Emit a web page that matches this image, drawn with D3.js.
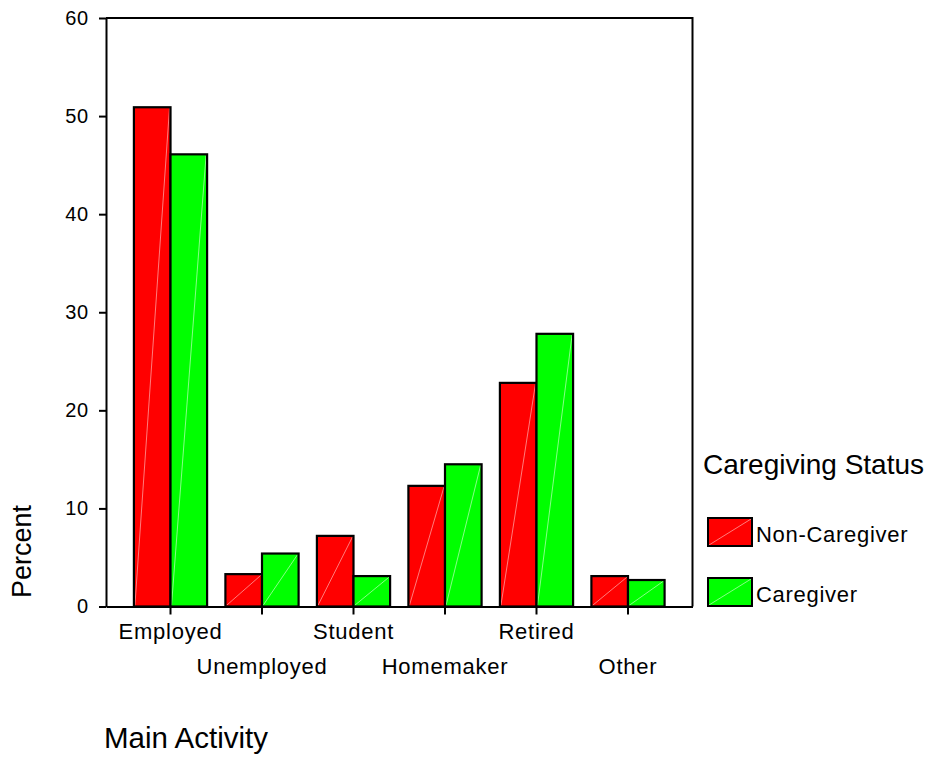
<!DOCTYPE html>
<html>
<head>
<meta charset="utf-8">
<script src="https://cdn.jsdelivr.net/npm/d3@7"></script>
<style>
  html, body { margin: 0; padding: 0; background: #fff; }
  svg { display: block; }
  text { font-family: "Liberation Sans", Arial, sans-serif; fill: #000; }
</style>
</head>
<body>
<svg id="chart" width="931" height="757"></svg>
<script>
const categories = ["Employed", "Unemployed", "Student", "Homemaker", "Retired", "Other"];
const seriesNames = ["Non-Caregiver", "Caregiver"];
const nonCaregiver = [50.9, 3.3, 7.2, 12.3, 22.8, 3.1];
const caregiver = [46.1, 5.4, 3.1, 14.5, 27.8, 2.7];
const yTicks = [0, 10, 20, 30, 40, 50, 60];
const colors = ["#ff0000", "#00ff00"];
const diagColors = ["#ff9a9a", "#a8ffa8"];

(function () {
const svg = d3.select("#chart");
const pL = 106, pR = 692.5, pT = 18, pB = 606.5;
const FF = '"Liberation Sans", Arial, sans-serif';

const x = d3.scaleBand().domain(categories).range([pL, pR]).paddingInner(0.2).paddingOuter(0.305);
const xs = d3.scaleBand().domain(seriesNames).range([0, x.bandwidth()]);
const y = d3.scaleLinear().domain([0, 60]).range([pB, pT]);

// frame (top and right)
svg.append("path")
  .attr("d", `M${pL},${pT}H${pR}V${pB}`)
  .attr("fill", "none").attr("stroke", "#000").attr("stroke-width", 2);

// bars
const rows = categories.map((c, i) => ({ cat: c, vals: [nonCaregiver[i], caregiver[i]] }));
const g = svg.append("g");
rows.forEach(r => {
  r.vals.forEach((v, k) => {
    const bx = x(r.cat) + xs(seriesNames[k]);
    const bw = xs.bandwidth();
    g.append("rect")
      .attr("x", bx).attr("y", y(v))
      .attr("width", bw).attr("height", y(0) - y(v))
      .attr("fill", colors[k]);
    g.append("line")
      .attr("x1", bx + 1).attr("y1", y(0) - 1)
      .attr("x2", bx + bw - 1).attr("y2", y(v) + 1)
      .attr("stroke", diagColors[k]).attr("stroke-width", 0.8);
    g.append("rect")
      .attr("x", bx).attr("y", y(v))
      .attr("width", bw).attr("height", y(0) - y(v))
      .attr("fill", "none").attr("stroke", "#000").attr("stroke-width", 2.2);
  });
});

// y axis
const yAxis = svg.append("g").attr("transform", `translate(${pL},0)`)
  .call(d3.axisLeft(y).tickValues(yTicks).tickSize(7).tickPadding(10).tickSizeOuter(0));
yAxis.select(".domain").attr("stroke-width", 2);
yAxis.selectAll(".tick line").attr("stroke-width", 2);
yAxis.selectAll(".tick text").style("font-size", "20px").style("letter-spacing", "0.8px")
  .style("font-family", FF).attr("fill", "#000");

// x axis
const xAxis = svg.append("g").attr("transform", `translate(0,${pB})`)
  .call(d3.axisBottom(x).tickSize(8).tickSizeOuter(0));
xAxis.select(".domain").attr("stroke-width", 2);
xAxis.selectAll(".tick line").attr("stroke-width", 2);
xAxis.selectAll(".tick text")
  .style("font-size", "22px").style("letter-spacing", "0.75px")
  .style("font-family", FF).attr("fill", "#000")
  .attr("dy", 0)
  .attr("y", (d, i) => i % 2 === 0 ? 639 - pB : 674 - pB);

// axis titles
svg.append("text").attr("x", 104).attr("y", 748)
  .style("font-size", "29.5px").text("Main Activity");
svg.append("text").attr("transform", "translate(31,598) rotate(-90)")
  .style("font-size", "27px").text("Percent");

// legend
svg.append("text").attr("x", 703).attr("y", 474)
  .style("font-size", "28px").text("Caregiving Status");
const legY = [518, 578];
seriesNames.forEach((s, k) => {
  svg.append("rect").attr("x", 708).attr("y", legY[k]).attr("width", 44).attr("height", 28)
    .attr("fill", colors[k]);
  svg.append("line").attr("x1", 709).attr("y1", legY[k] + 27).attr("x2", 751).attr("y2", legY[k] + 1)
    .attr("stroke", diagColors[k]).attr("stroke-width", 0.8);
  svg.append("rect").attr("x", 708).attr("y", legY[k]).attr("width", 44).attr("height", 28)
    .attr("fill", "none").attr("stroke", "#000").attr("stroke-width", 2);
  svg.append("text").attr("x", 756).attr("y", legY[k] + 24)
    .style("font-size", "22px").style("letter-spacing", "0.7px").text(s);
});
})();
</script>
</body>
</html>
